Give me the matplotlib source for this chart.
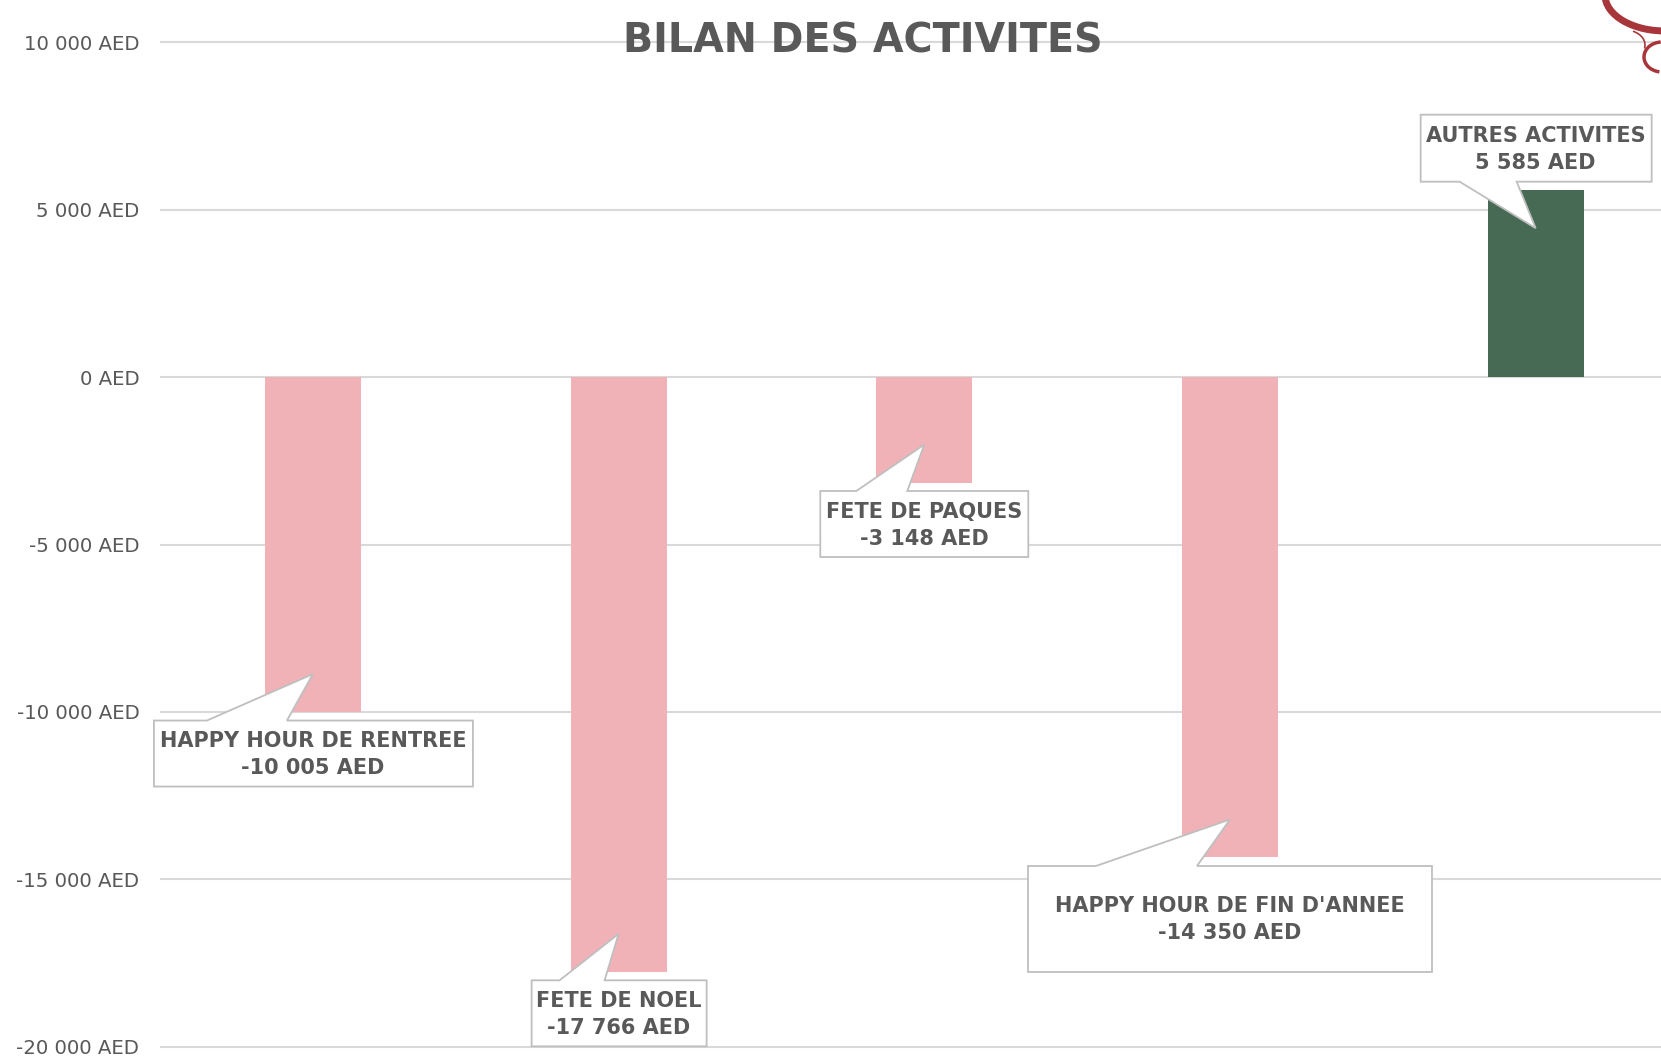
import numpy as np
import matplotlib.pyplot as plt
from matplotlib.patches import Polygon, Arc
from matplotlib.transforms import IdentityTransform
from matplotlib.ticker import FuncFormatter

# data
categories = ['HAPPY HOUR DE RENTREE', 'FETE DE NOEL', 'FETE DE PAQUES',
              "HAPPY HOUR DE FIN D'ANNEE", 'AUTRES ACTIVITES']
values = [-10005, -17766, -3148, -14350, 5585]
y_ticks = [-20000, -15000, -10000, -5000, 0, 5000, 10000]

# callout box layout, pixels around the bar end: left, right, box height, tail base left/right
callout_layout = [(-159, 160, 66, -106, -26),
                  (-87, 88, 66, -59, -14),
                  (-104, 104, 66, -68, -17),
                  (-202, 202, 106, -134, -33),
                  (-115, 116, 67, -76, -19)]

GRAY = '#595959'
PINK = '#F0B2B7'
GREEN = '#476A55'
LOGO_RED = '#A8353A'

W, H = 1661, 1057
fig = plt.figure(figsize=(W/100, H/100), dpi=100)
ax = fig.add_axes([161/W, 1-1046.6/H, 1-161/W, (1046.6-42.4)/H])

x = np.arange(len(values))
colors = [GREEN if v > 0 else PINK for v in values]
ax.bar(x, values, width=0.314, color=colors, zorder=2)

ax.set_xlim(-0.497, 4.41)
ax.set_ylim(-20000, 10000)
ax.set_yticks(y_ticks)

def fmt(v, pos=None):
    s = '{:,.0f}'.format(v).replace(',', ' ')
    return s + ' AED'

ax.yaxis.set_major_formatter(FuncFormatter(fmt))
ax.tick_params(axis='y', length=0, pad=15.6, labelsize=14.2, labelcolor=GRAY)
ax.set_xticks([])
for s in ax.spines.values():
    s.set_visible(False)
ax.yaxis.grid(True, color='#D9D9D9', lw=1.5, zorder=0)
ax.set_axisbelow(True)
for gl in ax.get_ygridlines():
    gl.set_clip_on(False)

# callouts, drawn in pixel coords
ident = IdentityTransform()
for i, v in enumerate(values):
    cx, ey = ax.transData.transform((x[i], v))
    L, R, bh, b0, b1 = callout_layout[i]
    gap, tip = 8.5, 38
    if v < 0:
        top = ey - gap
        bot = top - bh
        verts = [(cx+L, top), (cx+b0, top), (cx, ey+tip), (cx+b1, top),
                 (cx+R, top), (cx+R, bot), (cx+L, bot)]
    else:
        bot = ey + gap
        top = bot + bh
        verts = [(cx+L, top), (cx+R, top), (cx+R, bot), (cx+b1, bot),
                 (cx, ey-tip), (cx+b0, bot), (cx+L, bot)]
    fig.add_artist(Polygon(verts, closed=True, transform=ident, facecolor='white',
                           edgecolor='#BFBFBF', lw=1.3, zorder=3))
    c = (top + bot) / 2
    fig.text(cx, c+6.5, categories[i], transform=ident, ha='center', va='baseline',
             fontsize=15, weight='bold', color=GRAY, zorder=4)
    fig.text(cx, c-20.5, fmt(v), transform=ident, ha='center', va='baseline',
             fontsize=15, weight='bold', color=GRAY, zorder=4)

# title
fig.text(862.5/W, 1-52.3/H, 'BILAN DES ACTIVITES', ha='center', va='baseline',
         fontsize=28.5, weight='bold', color=GRAY, zorder=4)

# bit of the logo at the top right corner
fig.add_artist(Arc((1665, H+5), 120, 72, theta1=180, theta2=275, transform=ident,
                   color=LOGO_RED, lw=5, zorder=4))
fig.add_artist(Arc((1662, H-57), 36, 30, theta1=95, theta2=260, transform=ident,
                   color=LOGO_RED, lw=2.5, zorder=4))
fig.add_artist(Arc((1625, H-45), 40, 30, theta1=-10, theta2=60, transform=ident,
                   color=LOGO_RED, lw=1.2, zorder=4))

fig.savefig('out.png', dpi=100)
